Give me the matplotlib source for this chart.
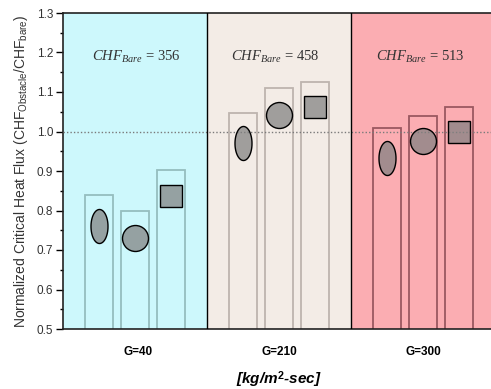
#!/usr/bin/env python3
# -*- coding: utf-8 -*-
"""Normalized CHF with obstacles, three mass fluxes."""

import matplotlib
matplotlib.use("Agg")
import matplotlib.pyplot as plt
import numpy as np
from matplotlib.path import Path
from matplotlib.ticker import MultipleLocator, FormatStrFormatter

groups = ["G=40", "G=210", "G=300"]
chf_bare = [356, 458, 513]

# bar tops (outline boxes), one list per obstacle shape
bar_ellipse = [0.840, 1.046, 1.009]
bar_circle = [0.800, 1.109, 1.039]
bar_square = [0.903, 1.126, 1.061]

# marker values
pt_ellipse = [0.762, 0.971, 0.933]
pt_circle = [0.730, 1.042, 0.975]
pt_square = [0.837, 1.062, 0.999]

plt.rcParams["font.family"] = ["Liberation Sans", "DejaVu Sans"]
plt.rcParams["mathtext.fontset"] = "custom"
plt.rcParams["mathtext.rm"] = "Liberation Serif"
plt.rcParams["mathtext.it"] = "Liberation Serif:italic"
plt.rcParams["mathtext.sf"] = "Liberation Sans"
plt.rcParams["mathtext.bf"] = "Liberation Sans:bold"

panel_bg = ["#cdf8fc", "#f3ece6", "#fbadb2"]
bar_edge = ["#8cb4b4", "#b4aba5", "#8a4a52"]

fig = plt.figure(figsize=(4.91, 3.89), dpi=100)
ax = fig.add_axes([63 / 491, 1 - 329 / 389, 432 / 491, 316 / 389])

for i in range(3):
    ax.axvspan(i, i + 1, color=panel_bg[i], zorder=0, lw=0)
for xb in (1, 2):
    ax.axvline(xb, color="black", lw=1.0, zorder=4)

offsets = [0.25, 0.50, 0.75]
width = 0.2
centers = np.arange(3)
for off, vals in zip(offsets, [bar_ellipse, bar_circle, bar_square]):
    ax.bar(centers + off, vals, width=width, fill=False,
           edgecolor=bar_edge, linewidth=1.3, alpha=0.85, zorder=2)

ax.axhline(1.0, color="#7a7a7a", ls=(0, (1, 1.5)), lw=1.0, zorder=3)

t = np.linspace(0, 2 * np.pi, 60)
ellipse = Path(np.column_stack([0.5 * np.cos(t), np.sin(t)]))
fc = (0.50, 0.50, 0.50, 0.72)
ax.plot(centers + 0.25, pt_ellipse, ls="none", marker=ellipse, ms=24.5,
        mfc=fc, mec="black", mew=1.0, zorder=5)
ax.plot(centers + 0.50, pt_circle, ls="none", marker="o", ms=18.7,
        mfc=fc, mec="black", mew=1.0, zorder=5)
ax.plot(centers + 0.75, pt_square, ls="none", marker="s", ms=16.5,
        mfc=fc, mec="black", mew=1.0, zorder=5)

text_x = [0.51, 1.47, 2.48]
for x, v in zip(text_x, chf_bare):
    ax.text(x, 1.19, r"$\mathit{CHF}_{\mathit{Bare}}$" + f" = {v}",
            family="Liberation Serif", fontsize=10.5, color="#333333",
            ha="center", va="center", zorder=6)

ax.set_xlim(0, 3)
ax.set_ylim(0.5, 1.3)
ax.yaxis.set_major_locator(MultipleLocator(0.1))
ax.yaxis.set_minor_locator(MultipleLocator(0.05))
ax.yaxis.set_major_formatter(FormatStrFormatter("%.1f"))
ax.tick_params(axis="y", which="major", length=5, width=1, labelsize=8.5,
               labelcolor="#333333", pad=2)
ax.tick_params(axis="y", which="minor", length=2.5, width=1)

ax.set_xticks([0.52, 1.5, 2.5])
ax.set_xticklabels(groups, fontweight="bold", fontsize=8.5)
ax.tick_params(axis="x", length=0, pad=12)

ax.set_xlabel(r"[kg/m$^{\mathbf{2}}$-sec]", fontsize=11, fontweight="bold",
              fontstyle="italic", labelpad=8)
ax.set_ylabel(r"Normalized Critical Heat Flux (CHF$_{\mathsf{Obstacle}}$/CHF$_{\mathsf{bare}}$)",
              fontsize=10, color="#333333", labelpad=5)

for side in ("top", "bottom", "left"):
    ax.spines[side].set_linewidth(1.2)
    ax.spines[side].set_color("#222222")
ax.spines["right"].set_visible(False)

fig.savefig("out.png", dpi=100)
